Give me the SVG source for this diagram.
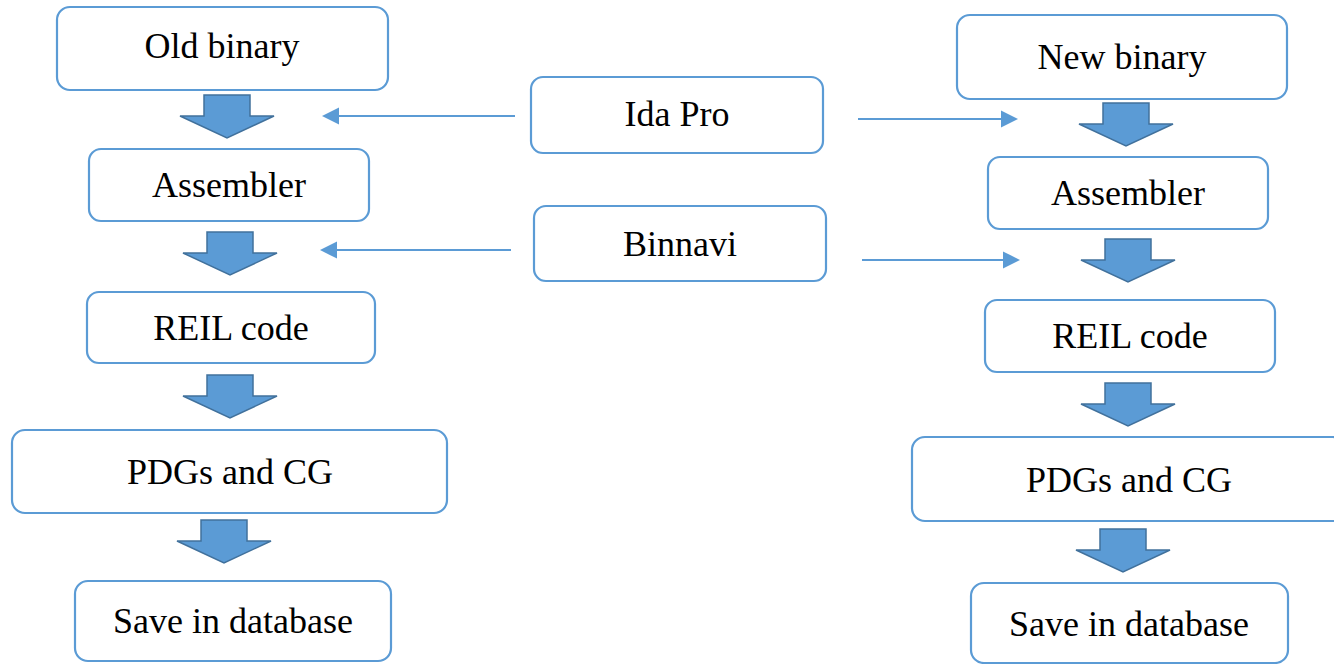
<svg xmlns="http://www.w3.org/2000/svg" width="1334" height="664" viewBox="0 0 1334 664">
<style>
.box{fill:#fff;stroke:#5B9BD5;stroke-width:2.2}
.t{font-family:"Liberation Serif","Times New Roman",serif;font-size:36px;fill:#000;text-anchor:middle}
.blk{fill:#5B9BD5;stroke:#41719C;stroke-width:1.5;stroke-linejoin:miter}
.ln{stroke:#5B9BD5;stroke-width:2.2;fill:none}
</style>
<defs>
<marker id="ah" markerWidth="8" markerHeight="8" refX="7" refY="4" orient="auto" markerUnits="strokeWidth">
<path d="M0,0 L8,4 L0,8 z" fill="#5B9BD5"/>
</marker>
<path id="ba" d="M-23,0 H23 V21 H47 L0,43 L-47,21 H-23 Z"/>
</defs>
<rect width="1334" height="664" fill="#fff"/>
<g id="old-binary"><rect class="box" x="57" y="7" width="331" height="83" rx="13"/><text class="t" x="222" y="58">Old binary</text></g>
<g id="assembler-l"><rect class="box" x="89" y="149" width="280" height="72" rx="12"/><text class="t" x="229" y="197">Assembler</text></g>
<g id="reil-l"><rect class="box" x="87" y="292" width="288" height="71" rx="12"/><text class="t" x="231" y="340">REIL code</text></g>
<g id="pdg-l"><rect class="box" x="12" y="430" width="435" height="83" rx="13"/><text class="t" x="230" y="484">PDGs and CG</text></g>
<g id="save-l"><rect class="box" x="75" y="581" width="316" height="80" rx="13"/><text class="t" x="233" y="633">Save in database</text></g>
<g id="ida"><rect class="box" x="531" y="77" width="292" height="76" rx="12"/><text class="t" x="677" y="126">Ida Pro</text></g>
<g id="binnavi"><rect class="box" x="534" y="206" width="292" height="75" rx="12"/><text class="t" x="680" y="256">Binnavi</text></g>
<g id="new-binary"><rect class="box" x="957" y="15" width="330" height="84" rx="13"/><text class="t" x="1122" y="69">New binary</text></g>
<g id="assembler-r"><rect class="box" x="988" y="157" width="280" height="72" rx="12"/><text class="t" x="1128" y="205">Assembler</text></g>
<g id="reil-r"><rect class="box" x="985" y="300" width="290" height="72" rx="12"/><text class="t" x="1130" y="348">REIL code</text></g>
<g id="pdg-r"><rect class="box" x="912" y="437" width="434" height="84" rx="13"/><text class="t" x="1129" y="492">PDGs and CG</text></g>
<g id="save-r"><rect class="box" x="971" y="583" width="317" height="80" rx="13"/><text class="t" x="1129" y="636">Save in database</text></g>
<g id="connectors">
<use href="#ba" class="blk" transform="translate(227,95)"/>
<use href="#ba" class="blk" transform="translate(230,232)"/>
<use href="#ba" class="blk" transform="translate(230,375)"/>
<use href="#ba" class="blk" transform="translate(224,520)"/>
<use href="#ba" class="blk" transform="translate(1126,103)"/>
<use href="#ba" class="blk" transform="translate(1128,239)"/>
<use href="#ba" class="blk" transform="translate(1128,383)"/>
<use href="#ba" class="blk" transform="translate(1123,529)"/>
<line class="ln" x1="515" y1="116" x2="324" y2="116" marker-end="url(#ah)"/>
<line class="ln" x1="511" y1="250" x2="322" y2="250" marker-end="url(#ah)"/>
<line class="ln" x1="858" y1="119" x2="1016" y2="119" marker-end="url(#ah)"/>
<line class="ln" x1="862" y1="260" x2="1018" y2="260" marker-end="url(#ah)"/>
</g>
</svg>
